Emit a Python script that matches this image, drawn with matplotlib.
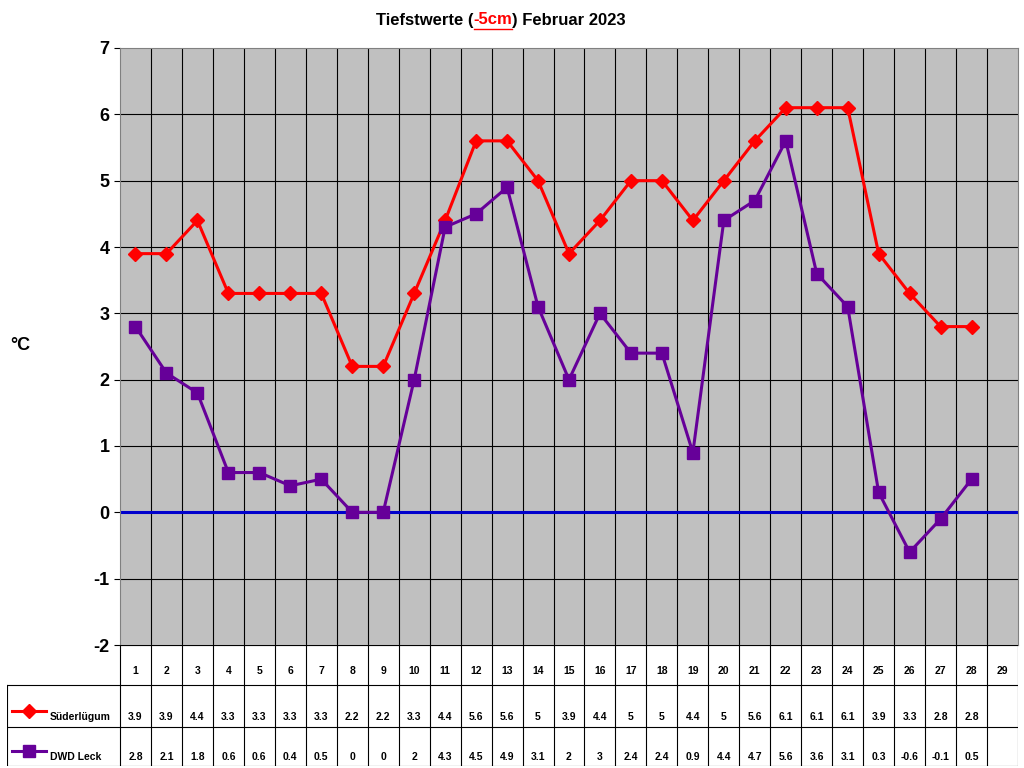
import matplotlib.pyplot as plt
import numpy as np
from matplotlib.lines import Line2D

plt.rcParams['font.family'] = ['Liberation Sans', 'DejaVu Sans']
plt.rcParams['axes.unicode_minus'] = False

days = list(range(1, 30))
suederluegum = [3.9, 3.9, 4.4, 3.3, 3.3, 3.3, 3.3, 2.2, 2.2, 3.3, 4.4, 5.6, 5.6, 5, 3.9, 4.4, 5, 5, 4.4, 5,
                5.6, 6.1, 6.1, 6.1, 3.9, 3.3, 2.8, 2.8]
dwd_leck = [2.8, 2.1, 1.8, 0.6, 0.6, 0.4, 0.5, 0, 0, 2, 4.3, 4.5, 4.9, 3.1, 2, 3, 2.4, 2.4, 0.9, 4.4,
            4.7, 5.6, 3.6, 3.1, 0.3, -0.6, -0.1, 0.5]
series = [('Süderlügum', suederluegum, 'red', 'D', 7), ('DWD Leck', dwd_leck, '#660099', 's', 9)]

W, H = 1024, 768
fig = plt.figure(figsize=(W / 100, H / 100), dpi=100)


def px(x0, y0, x1, y1):
    return [x0 / W, 1 - y1 / H, (x1 - x0) / W, (y1 - y0) / H]


ax = fig.add_axes(px(120, 48, 1018, 645))
ax.set_facecolor('#c0c0c0')
ax.set_xlim(0.5, 29.5)
ax.set_ylim(-2, 7)
ax.set_yticks(range(-2, 8))
ax.tick_params(axis='y', labelsize=13, length=4)
for t in ax.get_yticklabels():
    t.set_fontweight('bold')
ax.set_xticks([])
for y in range(-1, 7):
    ax.axhline(y, color='black', lw=0.8)
for x in np.arange(1.5, 29.5, 1):
    ax.axvline(x, color='black', lw=0.8)
ax.axhline(0, color='#0000cc', lw=2.2)
for name, vals, c, m, ms in series:
    ax.plot(days[:len(vals)], vals, color=c, lw=2.2, marker=m, ms=ms)
for s in ax.spines.values():
    s.set_color('gray')
fig.text(10 / W, 1 - 346 / H, '°C', fontsize=13, fontweight='bold', va='center')

# title, pieces placed one after another
ty = 1 - 20 / H
renderer = fig.canvas.get_renderer()
x = 376
for part, col in [('Tiefstwerte (', 'black'), ('-5cm', 'red'), (') Februar 2023', 'black')]:
    t = fig.text(x / W, ty, part, fontsize=12, fontweight='bold', va='center', color=col)
    w = t.get_window_extent(renderer).width
    if col == 'red':
        fig.add_artist(Line2D([x / W, (x + w) / W], [1 - 29 / H] * 2, color='red', lw=1))
    x += w

# data table
tab = fig.add_axes(px(7, 645, 1018, 766))
tab.set_xlim(7, 1018)
tab.set_ylim(766, 645)
tab.axis('off')
cw = (1018 - 120) / 29
rows = [645, 685, 727, 766]
tab.plot([120, 1018], [645, 645], color='black', lw=0.8)
for y in rows[1:]:
    tab.plot([7, 1018], [y, y], color='black', lw=0.8)
tab.plot([7, 7], [685, 766], color='black', lw=0.8)
for i in range(30):
    xx = 120 + i * cw
    tab.plot([xx, xx], [645, 766], color='black', lw=0.8)
for i, d in enumerate(days):
    tab.text(120 + (i + 0.5) * cw, 671, str(d), ha='center', va='center', fontsize=7.5, fontweight='bold')
for r, (name, vals, c, m, ms) in enumerate(series):
    yc = 715 if r == 0 else 755
    tab.plot([12, 46], [yc - 4, yc - 4], color=c, lw=2.2)
    tab.plot([29], [yc - 4], color=c, marker=m, ms=ms)
    tab.text(50, yc + 2, name, fontsize=7.5, fontweight='bold', va='center')
    for i, v in enumerate(vals):
        tab.text(120 + (i + 0.5) * cw, yc + 2, f'{v:g}', ha='center', va='center', fontsize=7.5, fontweight='bold')

fig.savefig('out.png', dpi=100)
